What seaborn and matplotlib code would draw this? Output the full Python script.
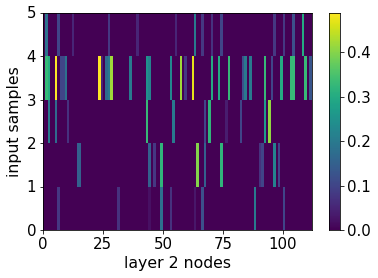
import numpy as np
import pandas as pd
import matplotlib
matplotlib.use("Agg")
import matplotlib.pyplot as plt
import seaborn as sns

# active nodes per input sample, everything else is zero
n_nodes = 112
n_samples = 5

nodes_0 = [6, 31, 44, 49, 53, 63, 66, 88, 100]
vals_0 = [0.08, 0.07, 0.02, 0.18, 0.07, 0.03, 0.12, 0.2, 0.1]

nodes_1 = [14, 15, 44, 46, 49, 64, 67, 74, 90, 91, 96, 98]
vals_1 = [0.15, 0.15, 0.15, 0.08, 0.32, 0.4, 0.15, 0.32, 0.07, 0.1, 0.22, 0.1]

nodes_2 = [2, 5, 10, 43, 54, 67, 69, 76, 82, 92, 94]
vals_2 = [0.2, 0.17, 0.07, 0.33, 0.2, 0.1, 0.32, 0.04, 0.1, 0.27, 0.41]

nodes_3 = [1, 2, 5, 7, 8, 9, 23, 24, 26, 27, 28, 36, 43, 44, 53, 57, 59, 62,
           70, 73, 77, 83, 84, 86, 92, 95, 99, 103, 104, 109, 111]
vals_3 = [0.33, 0.3, 0.49, 0.1, 0.1, 0.18, 0.49, 0.05, 0.17, 0.2, 0.42, 0.2, 0.25, 0.22, 0.23, 0.42, 0.08, 0.47,
          0.3, 0.3, 0.33, 0.12, 0.2, 0.2, 0.33, 0.1, 0.3, 0.33, 0.33, 0.33, 0.13]

nodes_4 = [1, 6, 12, 27, 39, 55, 63, 66, 70, 74, 96, 100, 104, 108]
vals_4 = [0.18, 0.1, 0.05, 0.08, 0.05, 0.05, 0.2, 0.08, 0.07, 0.1, 0.08, 0.08, 0.12, 0.3]

all_nodes = [nodes_0, nodes_1, nodes_2, nodes_3, nodes_4]
all_vals = [vals_0, vals_1, vals_2, vals_3, vals_4]

activations = np.zeros((n_samples, n_nodes))
for i in range(n_samples):
    activations[i, all_nodes[i]] = all_vals[i]
df = pd.DataFrame(activations)

plt.rcParams["font.size"] = 15

fig = plt.figure(figsize=(378 / 72, 278 / 72), dpi=72)
ax = fig.add_axes([43 / 378, 1 - 230 / 278, 268.5 / 378, 217.5 / 278])
cax = fig.add_axes([328.5 / 378, 1 - 230 / 278, 11 / 378, 217.5 / 278])

sns.heatmap(df, ax=ax, cbar_ax=cax, cmap="viridis", vmin=0, vmax=0.49,
            xticklabels=False, yticklabels=False)
ax.invert_yaxis()

ax.set_xticks([0, 25, 50, 75, 100])
ax.set_xticklabels([0, 25, 50, 75, 100], rotation=0)
ax.set_yticks([0, 1, 2, 3, 4, 5])
ax.set_yticklabels([0, 1, 2, 3, 4, 5], rotation=0)
ax.set_xlabel("layer 2 nodes", fontsize=15.7)
ax.set_ylabel("input samples", fontsize=15.7)
for s in ax.spines.values():
    s.set_visible(True)
for s in cax.spines.values():
    s.set_visible(True)
cax.set_yticks([0, 0.1, 0.2, 0.3, 0.4])
cax.tick_params(labelsize=15)

fig.savefig("out.png", dpi=72)
